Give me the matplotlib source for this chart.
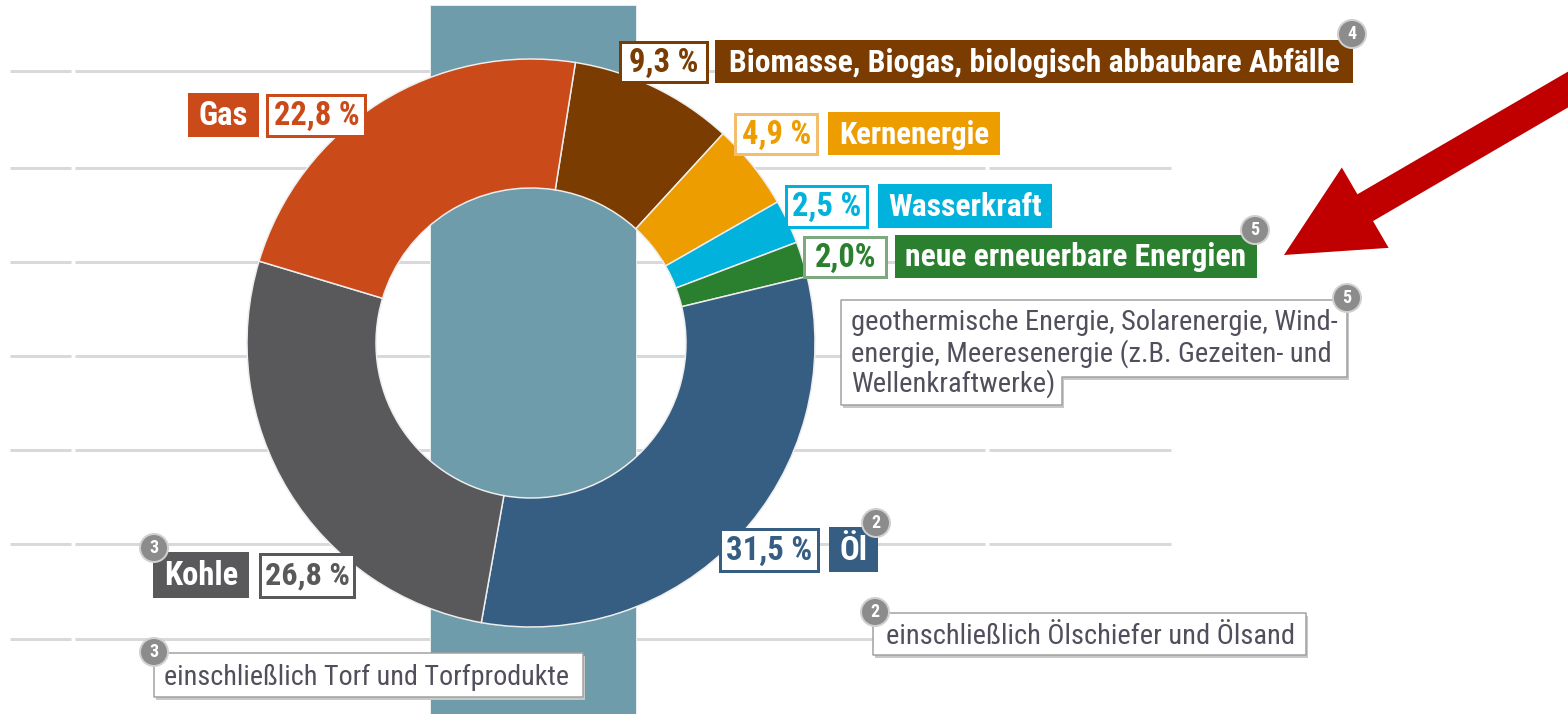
import matplotlib
matplotlib.use("Agg")
import matplotlib.pyplot as plt
from matplotlib import font_manager as fm
from matplotlib.patches import Rectangle, Circle, Polygon, FancyArrow

# ---------------- data ----------------
categories = ["Biomasse, Biogas, biologisch abbaubare Abfälle", "Kernenergie", "Wasserkraft",
              "neue erneuerbare Energien", "Öl", "Kohle", "Gas"]
shares = [9.3, 4.9, 2.5, 2.0, 31.5, 26.8, 22.8]
value_texts = ["9,3 %", "4,9 %", "2,5 %", "2,0%", "31,5 %", "26,8 %", "22,8 %"]
footnote_marks = ["4", None, None, "5", "2", "3", None]
footnotes = {
    "5": "geothermische Energie, Solarenergie, Wind-\nenergie, Meeresenergie (z.B. Gezeiten- und\nWellenkraftwerke)",
    "2": "einschließlich Ölschiefer und Ölsand",
    "3": "einschließlich Torf und Torfprodukte",
}
colors = ["#7a3c00", "#ee9d00", "#00b2dc", "#2b802f", "#355e82", "#59595b", "#ca4a1a"]
value_edge = ["#7a3c00", "#f3bd6e", "#00b2dc", "#7ea87f", "#355e82", "#59595b", "#ca4a1a"]

W, H = 1568, 714

avail = {f.name for f in fm.fontManager.ttflist}
narrow = next((n for n in ["Roboto Condensed", "Liberation Sans Narrow", "Open Sans Condensed",
                           "DejaVu Sans Condensed"] if n in avail), "DejaVu Sans")

fig = plt.figure(figsize=(W / 100, H / 100), dpi=100)
ax = fig.add_axes([0, 0, 1, 1])

def Y(y):
    return H - y

def px(v):
    return v * 0.72

# grid lines
grid_y = [71, 168, 262, 356, 450, 544, 639]
for gy in grid_y:
    for x0, x1 in [(10, 71), (75, 985), (989, 1171)]:
        ax.plot([x0, x1], [Y(gy), Y(gy)], color="#d9d9d9", lw=px(3), solid_capstyle="butt", zorder=1)

# vertical band
ax.add_patch(Rectangle((430, 0), 206, Y(5), facecolor="#6e9caa", edgecolor="#e6eef0", lw=px(1), zorder=2))

# donut
wedges, _ = ax.pie(shares, startangle=81, counterclock=False, radius=284, center=(531, Y(343)),
                   colors=colors, wedgeprops=dict(width=129, edgecolor="#eeeeee", linewidth=px(1.5)),
                   frame=True)
for w in wedges:
    w.set_zorder(3)

ax.set_xlim(0, W)
ax.set_ylim(0, H)
ax.set_aspect("auto")
ax.axis("off")

renderer = fig.canvas.get_renderer()

def fit_text(x, y, s, maxw, size, **kw):
    t = ax.text(x, Y(y), s, fontsize=size, **kw)
    while t.get_window_extent(renderer).width > maxw and size > 4:
        size -= 0.25
        t.set_fontsize(size)
    return t

def label_box(x0, y0, x1, y1, fc, ec=None, lw=0):
    ax.add_patch(Rectangle((x0, Y(y1)), x1 - x0, y1 - y0, facecolor=fc,
                           edgecolor=ec if ec else fc, lw=px(lw), zorder=6))

def badge(x, y, s):
    ax.add_patch(Circle((x, Y(y)), 14, facecolor="#8c8c8c", edgecolor="#d0d0d0", lw=px(2), zorder=9))
    ax.text(x, Y(y), s, fontsize=13, fontweight="bold", color="white", family=narrow,
            ha="center", va="center", zorder=10)

layout = [
    ((619, 40, 709, 83), (715, 40, 1353, 83)),
    ((734, 112, 819, 155), (828, 112, 1000, 155)),
    ((785, 184, 869, 228), (878, 184, 1052, 228)),
    ((803, 235, 888, 278), (895, 235, 1257, 278)),
    ((719, 527, 820, 572), (829, 527, 878, 572)),
    ((259, 552, 356, 598), (153, 552, 249, 598)),
    ((266, 93, 367, 137), (188, 93, 259, 137)),
]
badge_pos = {0: (1352, 34), 3: (1255, 230), 4: (876, 523), 5: (154, 548)}

for i, (vb, nb) in enumerate(layout):
    x0, y0, x1, y1 = vb
    label_box(x0 + 1.5, y0 + 1.5, x1 - 1.5, y1 - 1.5, "white", value_edge[i], 3)
    fit_text((x0 + x1) / 2, (y0 + y1) / 2 + 1, value_texts[i], (x1 - x0) - 12, 23.5,
             color=colors[i], fontweight="bold", family=narrow, ha="center", va="center", zorder=7)
    x0, y0, x1, y1 = nb
    label_box(x0, y0, x1, y1, colors[i])
    fit_text((x0 + x1) / 2, (y0 + y1) / 2 + 1, categories[i], (x1 - x0) - 20, 23.5,
             color="white", fontweight="bold", family=narrow, ha="center", va="center", zorder=7)
    if i in badge_pos:
        badge(*badge_pos[i], footnote_marks[i])

def note_shape(pts):
    sh = [(x + 2, Y(y + 3)) for x, y in pts]
    ax.add_patch(Polygon(sh, closed=True, facecolor="#c8c8c8", edgecolor="none", zorder=6))
    ax.add_patch(Polygon([(x, Y(y)) for x, y in pts], closed=True, facecolor="white",
                         edgecolor="#a0a0a0", lw=px(1.5), zorder=6, joinstyle="round"))

note_color = "#534e5c"
note_shape([(841, 300), (1347, 300), (1347, 377), (1062, 377), (1062, 405), (841, 405)])
for k, line in enumerate(footnotes["5"].split("\n")):
    fit_text(851, 323 + k * 30.5, line, 487, 20.5, color=note_color, family=narrow,
             ha="left", va="center", zorder=7)
badge(1347, 298, "5")

note_shape([(873, 613), (1306, 613), (1306, 655), (873, 655)])
fit_text(886, 636, footnotes["2"], 410, 20.5, color=note_color, family=narrow, ha="left", va="center", zorder=7)
badge(875, 612, "2")

note_shape([(154, 653), (583, 653), (583, 697), (154, 697)])
fit_text(164, 677, footnotes["3"], 409, 20.5, color=note_color, family=narrow, ha="left", va="center", zorder=7)
badge(154, 652, "3")

# red arrow
tip = (1284, 255)
start = (1600, 70.9)
ax.add_patch(FancyArrow(start[0], Y(start[1]), tip[0] - start[0], Y(tip[1]) - Y(start[1]),
                        width=31, head_width=93, head_length=94, length_includes_head=True,
                        facecolor="#c00000", edgecolor="none", zorder=8))

fig.savefig("out.png", dpi=100)
